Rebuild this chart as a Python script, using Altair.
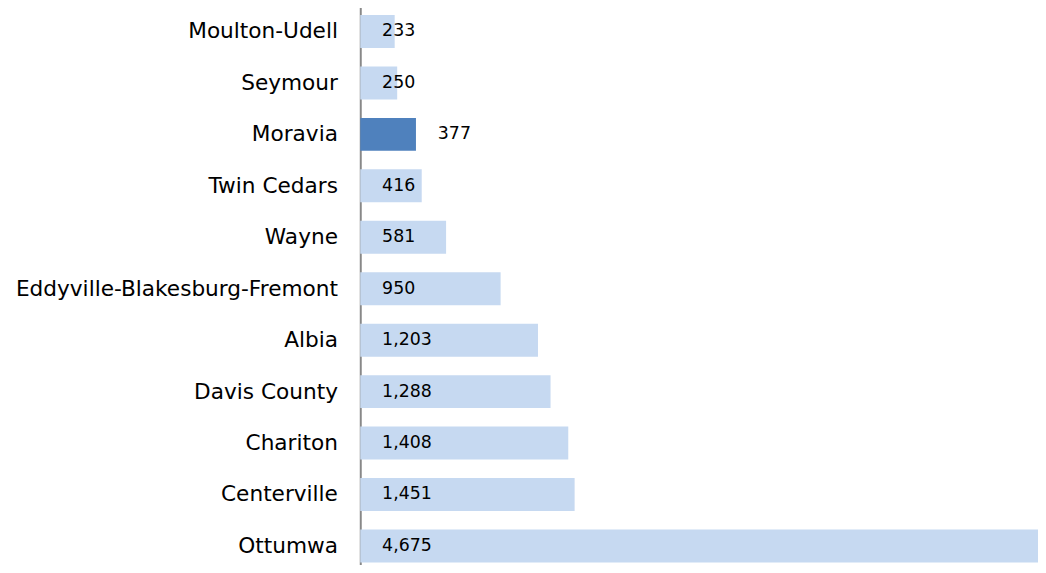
import altair as alt
import pandas as pd

names = ["Moulton-Udell", "Seymour", "Moravia", "Twin Cedars", "Wayne",
         "Eddyville-Blakesburg-Fremont", "Albia", "Davis County", "Chariton",
         "Centerville", "Ottumwa"]
values = [233, 250, 377, 416, 581, 950, 1203, 1288, 1408, 1451, 4675]
highlight = [n == "Moravia" for n in names]

df = pd.DataFrame({"name": names, "value": values, "hl": highlight})

FONT = "DejaVu Sans"

y = alt.Y("name:N", sort=names,
          scale=alt.Scale(range=[-4, 565.5], paddingInner=0.36, paddingOuter=0.172),
          axis=alt.Axis(title=None, ticks=False, labelFont=FONT, labelFontSize=21.8,
                        labelColor="#000000", labelPadding=23, domainColor="#888888",
                        domainWidth=2, grid=False, labelLimit=0))
# the longest bar runs past the right edge of the picture, as in the reference
x = alt.X("value:Q", scale=alt.Scale(domain=[0, 4675], range=[0, 696], nice=False), axis=None)

bars = alt.Chart(df).mark_bar().encode(
    y=y, x=x,
    color=alt.Color("hl:N", scale=alt.Scale(domain=[False, True], range=["#C6D9F1", "#4F81BD"]), legend=None),
)

text = alt.Chart(df).transform_calculate(
    lx="datum.hl ? datum.value : 0"
).mark_text(align="left", baseline="middle", dx=22, font=FONT, fontSize=17.5, color="#000000").encode(
    y=alt.Y("name:N", sort=names),
    x=alt.X("lx:Q"),
    text=alt.Text("value:Q", format=","),
)

chart = alt.layer(bars, text).properties(
    width=683, height=557,
    autosize=alt.AutoSizeParams(type="none"),
    padding={"left": 355, "top": 0, "right": 0, "bottom": 0},
).configure_view(stroke=None)

chart.save("out.html", embed_options={"renderer": "svg", "actions": False})
